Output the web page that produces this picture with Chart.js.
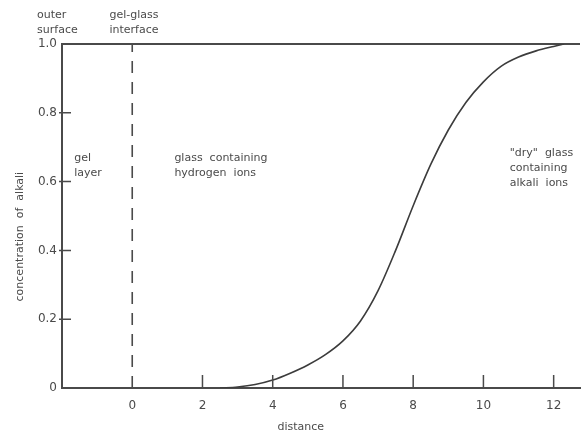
<!DOCTYPE html>
<html lang="en">
<head>
    <meta charset="UTF-8">
    <script src="https://cdn.jsdelivr.net/npm/chart.js"></script>
    <style>
        body{ margin:0; background:#fff; }
        #myChart{ display:block; }
    </style>
    <title>concentration of alkali vs distance</title>
</head>
<body>
    <canvas id="myChart" width="584" height="434"></canvas>

    <script>
        // curve
        const distance = [2.5, 3, 3.5, 4, 4.5, 5, 5.5, 6, 6.5, 7, 7.5, 8, 8.5, 9, 9.5, 10, 10.5, 11, 11.5, 12, 12.3];
        const alkali   = [0, 0.003, 0.01, 0.023, 0.043, 0.067, 0.097, 0.137, 0.195, 0.283, 0.4, 0.53, 0.65, 0.75, 0.83, 0.89, 0.935, 0.962, 0.98, 0.993, 1.0];

        const xTicks = [0, 2, 4, 6, 8, 10, 12];
        const yTicks = [0, 0.2, 0.4, 0.6, 0.8, 1.0];
        const yTickLabels = ['0', '0.2', '0.4', '0.6', '0.8', '1.0'];

        const xMin = -2, xMax = 12.75;
        const interfaceAt = 0;

        const ink = '#4a4a4a';
        const font = '"DejaVu Sans", sans-serif';

        // texts on the picture: [lines, x value, y value of first line, align]
        const notes = [
            [['outer', 'surface'], -2.71, 1.084, 'left'],
            [['gel-glass', 'interface'], 0.05, 1.084, 'center'],
            [['gel', 'layer'], -1.65, 0.669, 'left'],
            [['glass  containing', 'hydrogen  ions'], 1.2, 0.669, 'left'],
            [['"dry"  glass', 'containing', 'alkali  ions'], 10.75, 0.683, 'left'],
            [['distance'], 4.8, -0.113, 'center'],
        ];
        const yTitle = 'concentration  of  alkali';

        // inward tick marks + texts
        const plugin = {
            id: 'scan_marks',
            afterDraw: (chart) => {
                const ctx = chart.ctx;
                const xs = chart.scales.x, ys = chart.scales.y;
                ctx.save();
                ctx.strokeStyle = ink;
                ctx.lineWidth = 1.5;
                ctx.beginPath();
                xTicks.forEach(v => {
                    if (v === interfaceAt) return;
                    const px = xs.getPixelForValue(v);
                    ctx.moveTo(px, ys.getPixelForValue(0));
                    ctx.lineTo(px, ys.getPixelForValue(0) - 13);
                });
                yTicks.forEach(v => {
                    if (v === 0 || v === 1) return;
                    const py = ys.getPixelForValue(v);
                    ctx.moveTo(xs.left - 3, py);
                    ctx.lineTo(xs.left + 9, py);
                });
                ctx.stroke();

                ctx.fillStyle = ink;
                ctx.font = '11px ' + font;
                ctx.textBaseline = 'middle';
                notes.forEach(n => {
                    ctx.textAlign = n[3];
                    const px = xs.getPixelForValue(n[1]);
                    let py = ys.getPixelForValue(n[2]);
                    n[0].forEach(line => {
                        ctx.fillText(line, px, py);
                        py += 15;
                    });
                });

                ctx.translate(xs.getPixelForValue(-3.19), ys.getPixelForValue(0.44));
                ctx.rotate(-Math.PI / 2);
                ctx.textAlign = 'center';
                ctx.fillText(yTitle, 0, 0);
                ctx.restore();
            }
        };

        const data = {
            datasets: [
                {
                    label: 'alkali',
                    data: distance.map((d, i) => ({x: d, y: alkali[i]})),
                    borderColor: '#3c3c3c',
                    borderWidth: 1.6,
                    pointRadius: 0,
                    cubicInterpolationMode: 'monotone',
                    fill: false,
                },
                {
                    label: 'interface',
                    data: [{x: interfaceAt, y: 0}, {x: interfaceAt, y: 1}],
                    borderColor: ink,
                    borderWidth: 1.6,
                    borderDash: [12, 9],
                    pointRadius: 0,
                    fill: false,
                },
                {
                    label: 'top',
                    data: [{x: xMin, y: 1}, {x: xMax, y: 1}],
                    borderColor: ink,
                    borderWidth: 2,
                    pointRadius: 0,
                    clip: false,
                    fill: false,
                },
            ]
        };

        const config = {
            type: 'line',
            data: data,
            plugins: [plugin],
            options: {
                responsive: false,
                animation: false,
                layout: {
                    padding: {top: 44, right: 4, left: 0, bottom: 0}
                },
                plugins: {
                    legend: { display: false },
                    tooltip: { enabled: false }
                },
                scales: {
                    x: {
                        type: 'linear',
                        min: xMin,
                        max: xMax,
                        afterBuildTicks: (scale) => { scale.ticks = xTicks.map(v => ({value: v})); },
                        afterFit: (scale) => { scale.height = 46; },
                        grid: { display: false, drawTicks: false },
                        border: { display: true, color: ink, width: 2 },
                        ticks: {
                            color: ink,
                            font: { family: font, size: 12 },
                            padding: 11,
                            maxRotation: 0,
                            autoSkip: false,
                        }
                    },
                    y: {
                        type: 'linear',
                        min: 0,
                        max: 1,
                        afterBuildTicks: (scale) => { scale.ticks = yTicks.map(v => ({value: v})); },
                        afterFit: (scale) => { scale.width = 62; },
                        grid: { display: false, drawTicks: false },
                        border: { display: true, color: ink, width: 2 },
                        ticks: {
                            color: ink,
                            font: { family: font, size: 12 },
                            padding: 5,
                            callback: (v) => yTickLabels[yTicks.indexOf(Math.round(v * 10) / 10)],
                        }
                    }
                }
            }
        };

        const myChart = new Chart(document.getElementById('myChart').getContext('2d'), config);
    </script>
</body>
</html>
